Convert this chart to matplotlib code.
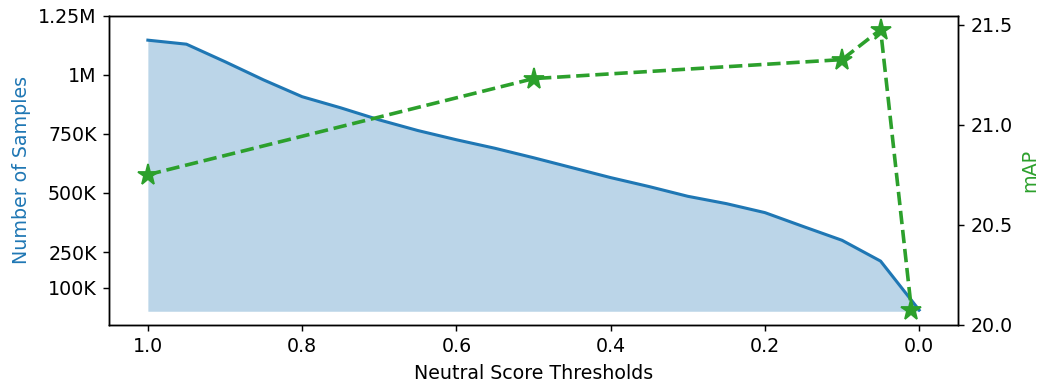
import numpy as np
import matplotlib
matplotlib.use("Agg")
import matplotlib.pyplot as plt
from matplotlib.ticker import FixedLocator, FixedFormatter

# ----- data -----
thresholds = [1.0, 0.95, 0.9, 0.85, 0.8, 0.75, 0.7, 0.65, 0.6, 0.55, 0.5,
              0.45, 0.4, 0.35, 0.3, 0.25, 0.2, 0.15, 0.1, 0.05, 0.0]
num_samples = [1146000, 1129000, 1055000, 978000, 907000, 860000, 809000,
               764000, 725000, 689000, 649000, 607000, 565000, 527000,
               486000, 455000, 417000, 358000, 300000, 212000, 5000]

map_thresholds = [1.0, 0.5, 0.1, 0.05, 0.01]
map_values = [20.75, 21.23, 21.325, 21.475, 20.075]

y_ticks = [100000, 250000, 500000, 750000, 1000000, 1250000]
y_tick_labels = ["100K", "250K", "500K", "750K", "1M", "1.25M"]

plt.rcParams["font.size"] = 10.5

# ----- plot -----
fig, ax1 = plt.subplots(figsize=(1041 / 130, 389 / 130), dpi=130)
fig.subplots_adjust(left=0.105, right=0.920, top=0.960, bottom=0.165)

ax1.plot(thresholds, num_samples, color="tab:blue", lw=1.7)
ax1.fill_between(thresholds, num_samples, color="tab:blue", alpha=0.3, lw=0)
ax1.set_xlabel("Neutral Score Thresholds")
ax1.set_ylabel("Number of Samples", color="tab:blue")
ax1.yaxis.set_major_locator(FixedLocator(y_ticks))
ax1.yaxis.set_major_formatter(FixedFormatter(y_tick_labels))
ax1.set_ylim(top=1250000)
ax1.invert_xaxis()

ax2 = ax1.twinx()
ax2.plot(map_thresholds, map_values, color="tab:green", ls="--", lw=2,
         marker="*", markersize=12)
ax2.set_ylabel("mAP", color="tab:green")
ax2.set_ylim(bottom=20.0)
ax2.set_yticks([20.0, 20.5, 21.0, 21.5])

fig.savefig("out.png", dpi=130)
